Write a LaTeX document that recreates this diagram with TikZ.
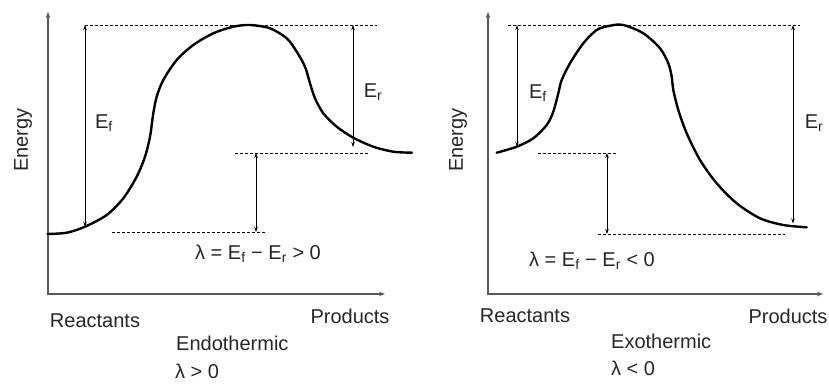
\documentclass[tikz,border=0pt]{standalone}
\usepackage{fontspec}
\setmainfont{Liberation Sans}
\usetikzlibrary{arrows.meta}
\begin{document}
\begin{tikzpicture}[x=1pt,y=-1pt,
  lbl/.style={font=\fontsize{20}{22}\selectfont, inner sep=0pt, text=black!85},
  axisline/.style={line width=1.3pt, black!65, {Stealth[length=6pt,width=4.5pt]}-{Stealth[length=6pt,width=4.5pt]}},
  curveline/.style={line width=2.4pt, line cap=round, line join=round},
  dimline/.style={line width=0.8pt, {Stealth[length=5pt,width=3.5pt]}-{Stealth[length=5pt,width=3.5pt]}},
  guide/.style={line width=0.9pt, dash pattern=on 3pt off 2pt}]
\useasboundingbox (0,0) rectangle (829,383);

% ---------- left panel ----------
\coordinate (LY) at (48,12);
\coordinate (LX) at (385,294);
\draw[axisline] (LY) |- (LX);
\draw[curveline] plot[smooth, tension=0.5] coordinates {
 (47.5,234) (66.7,232.7) (85,226.7) (106.7,215) (123.3,198.3) (136.7,176.7)
 (145,156.7) (150,136.7) (153.3,113.3) (156.7,96.7) (163.3,80) (176.7,60)
 (193.3,45) (213.3,33.3) (233.3,26.7) (250,25) (270,28.3) (286.7,38.3)
 (296.7,51.7) (305,66.7) (310,83.3) (315,98.3) (323.3,113.3) (336.7,126.7)
 (353.3,137.7) (373.3,146.7) (393.3,151.7) (412,152.7)};
\coordinate (LT1) at (85,25);  \coordinate (LT2) at (377,25);
\coordinate (LEfb) at (85,226.7);
\coordinate (LEr) at (353,25); \coordinate (LErb) at (353,147);
\coordinate (LM1) at (235,153); \coordinate (LM2) at (368,153);
\coordinate (LB1) at (112,232); \coordinate (LB2) at (265,232);
\coordinate (LLt) at (256,153); \coordinate (LLb) at (256,232);
\draw[guide] (LT1) -- (LT2);
\draw[guide] (LM1) -- (LM2);
\draw[guide] (LB1) -- (LB2);
\draw[dimline] (LT1) -- (LEfb);
\draw[dimline] (LEr) -- (LErb);
\draw[dimline] (LLt) -- (LLb);
\node[lbl] (LEfL) at (104,123) {E\textsubscript{f}};
\node[lbl] (LErL) at (373,92) {E\textsubscript{r}};
\node[lbl] (LEq) at (258,254) {λ = E\textsubscript{f} − E\textsubscript{r} > 0};
\node[lbl, rotate=90] (LEn) at (23,140) {Energy};
\node[lbl] (LRe) at (95,321) {Reactants};
\node[lbl] (LPr) at (350,316) {Products};
\node[lbl, anchor=west] (LEndo) at (176,343) {Endothermic};
\node[lbl, anchor=west] (LLam) at (175,371) {λ > 0};

% ---------- right panel ----------
\coordinate (RY) at (488,12);
\coordinate (RX) at (823,294);
\draw[axisline] (RY) |- (RX);
\draw[curveline] plot[smooth, tension=0.5] coordinates {
 (496.7,152.7) (516.7,146.7) (533.3,138.3) (546.7,125) (553.3,111.7)
 (558.3,93.3) (561.7,80) (570,63.3) (583.3,43.3) (596.7,30) (610,25.7)
 (623.3,25) (643.3,33.3) (660,48.3) (668.3,63.3) (671.7,76.7) (673.3,90)
 (678.3,110) (686.7,133.3) (700,160) (716.7,183.3) (736.7,203.3)
 (760,218.3) (783.3,225) (806.7,227.3)};
\coordinate (RT1) at (508,25);  \coordinate (RT2) at (800,25);
\coordinate (REf) at (517,25); \coordinate (REfb) at (517,146.7);
\coordinate (REr) at (793,25); \coordinate (RErb) at (793,223.5);
\coordinate (RM1) at (538,153); \coordinate (RM2) at (616,153);
\coordinate (RB1) at (598,234); \coordinate (RB2) at (785,234);
\coordinate (RLt) at (607,153); \coordinate (RLb) at (607,234);
\draw[guide] (RT1) -- (RT2);
\draw[guide] (RM1) -- (RM2);
\draw[guide] (RB1) -- (RB2);
\draw[dimline] (REf) -- (REfb);
\draw[dimline] (REr) -- (RErb);
\draw[dimline] (RLt) -- (RLb);
\node[lbl] (REfL) at (538,93) {E\textsubscript{f}};
\node[lbl] (RErL) at (814,123) {E\textsubscript{r}};
\node[lbl] (REq) at (592,261) {λ = E\textsubscript{f} − E\textsubscript{r} < 0};
\node[lbl, rotate=90] (REn) at (458,140) {Energy};
\node[lbl] (RRe) at (525,316) {Reactants};
\node[lbl] (RPr) at (788,316) {Products};
\node[lbl, anchor=west] (RExo) at (611,341) {Exothermic};
\node[lbl, anchor=west] (RLam) at (611,368) {λ < 0};
\end{tikzpicture}
\end{document}
